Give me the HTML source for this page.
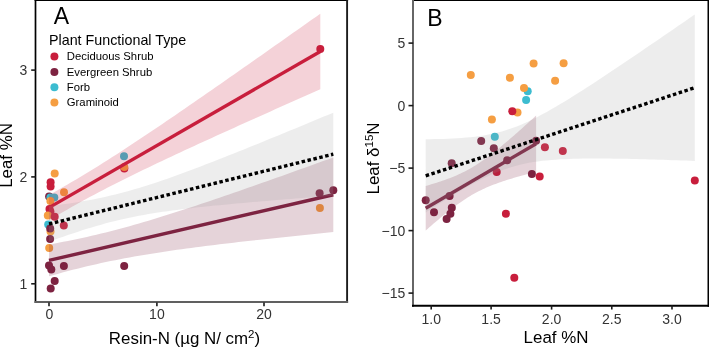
<!DOCTYPE html>
<html><head><meta charset="utf-8"><style>
html,body{margin:0;padding:0;background:#fff;overflow:hidden}
svg{display:block;will-change:transform}
text{font-family:"Liberation Sans",sans-serif}
.tk{font-size:14px;fill:#333}
.pl{font-size:23px;fill:#000;text-anchor:middle}
.ti{font-size:16.9px;fill:#000}
.sup{font-size:11.5px}
.lt{font-size:14.3px;fill:#000}
.ll{font-size:11.3px;fill:#000}
</style></head><body>
<svg width="709" height="347" viewBox="0 0 709 347">
<rect width="709" height="347" fill="#fff"/>
<circle cx="49.1" cy="196.6" r="4.00" fill="#7d2341"/>
<circle cx="50.4" cy="197.4" r="4.00" fill="#3cbcd0"/>
<circle cx="54.3" cy="197.4" r="4.00" fill="#3cbcd0"/>
<circle cx="50.6" cy="182.3" r="4.00" fill="#c81e3c"/>
<circle cx="50.6" cy="186.6" r="4.00" fill="#c81e3c"/>
<circle cx="54.7" cy="173.4" r="4.00" fill="#f59e42"/>
<circle cx="64.0" cy="192.3" r="4.00" fill="#f59e42"/>
<circle cx="50.4" cy="200.9" r="4.00" fill="#f59e42"/>
<circle cx="49.5" cy="209.0" r="4.00" fill="#c81e3c"/>
<circle cx="50.4" cy="211.6" r="4.00" fill="#c81e3c"/>
<circle cx="47.8" cy="215.5" r="4.00" fill="#f59e42"/>
<circle cx="54.7" cy="216.8" r="4.00" fill="#c81e3c"/>
<circle cx="63.8" cy="225.5" r="4.00" fill="#c81e3c"/>
<circle cx="48.2" cy="224.6" r="4.00" fill="#3cbcd0"/>
<circle cx="50.5" cy="231.5" r="4.00" fill="#f59e42"/>
<circle cx="50.2" cy="228.5" r="4.00" fill="#7d2341"/>
<circle cx="50.1" cy="239.1" r="4.00" fill="#7d2341"/>
<circle cx="49.2" cy="248.1" r="4.00" fill="#f59e42"/>
<circle cx="49.0" cy="265.4" r="4.00" fill="#7d2341"/>
<circle cx="51.3" cy="269.4" r="4.00" fill="#7d2341"/>
<circle cx="63.9" cy="266.0" r="4.00" fill="#7d2341"/>
<circle cx="54.7" cy="280.9" r="4.00" fill="#7d2341"/>
<circle cx="50.7" cy="288.4" r="4.00" fill="#7d2341"/>
<circle cx="124.2" cy="266.0" r="4.00" fill="#7d2341"/>
<circle cx="124.3" cy="168.6" r="4.00" fill="#c81e3c"/>
<circle cx="124.3" cy="167.0" r="4.00" fill="#f59e42"/>
<circle cx="124.0" cy="156.2" r="4.00" fill="#3cbcd0"/>
<circle cx="320.3" cy="49.0" r="4.00" fill="#c81e3c"/>
<circle cx="319.6" cy="193.2" r="4.00" fill="#7d2341"/>
<circle cx="333.3" cy="190.2" r="4.00" fill="#7d2341"/>
<circle cx="319.9" cy="207.9" r="4.00" fill="#f59e42"/>
<polygon points="49.00,194.95 53.52,192.45 58.04,189.91 62.56,187.34 67.09,184.74 71.61,182.10 76.13,179.44 80.65,176.74 85.17,174.02 89.70,171.26 94.22,168.48 98.74,165.66 103.26,162.83 107.78,159.96 112.30,157.08 116.83,154.17 121.35,151.24 125.87,148.29 130.39,145.32 134.91,142.34 139.43,139.34 143.95,136.32 148.48,133.30 153.00,130.26 157.52,127.20 162.04,124.14 166.56,121.07 171.09,117.99 175.61,114.90 180.13,111.80 184.65,108.70 189.17,105.58 193.69,102.47 198.22,99.34 202.74,96.21 207.26,93.08 211.78,89.94 216.30,86.79 220.82,83.65 225.34,80.49 229.87,77.34 234.39,74.18 238.91,71.02 243.43,67.85 247.95,64.68 252.47,61.51 257.00,58.34 261.52,55.16 266.04,51.98 270.56,48.80 275.08,45.62 279.61,42.44 284.13,39.25 288.65,36.06 293.17,32.87 297.69,29.68 302.21,26.49 306.74,23.29 311.26,20.10 315.78,16.90 320.30,13.70 320.30,89.23 315.78,91.24 311.26,93.24 306.74,95.25 302.21,97.26 297.69,99.28 293.17,101.29 288.65,103.30 284.13,105.32 279.61,107.34 275.08,109.36 270.56,111.38 266.04,113.40 261.52,115.43 257.00,117.46 252.47,119.49 247.95,121.52 243.43,123.56 238.91,125.60 234.39,127.64 229.87,129.68 225.34,131.73 220.82,133.79 216.30,135.84 211.78,137.90 207.26,139.97 202.74,142.04 198.22,144.11 193.69,146.19 189.17,148.28 184.65,150.37 180.13,152.47 175.61,154.58 171.09,156.69 166.56,158.81 162.04,160.95 157.52,163.09 153.00,165.24 148.48,167.41 143.95,169.58 139.43,171.77 134.91,173.98 130.39,176.20 125.87,178.44 121.35,180.69 116.83,182.97 112.30,185.26 107.78,187.58 103.26,189.92 98.74,192.29 94.22,194.68 89.70,197.10 85.17,199.55 80.65,202.02 76.13,204.53 71.61,207.07 67.09,209.64 62.56,212.25 58.04,214.88 53.52,217.55 49.00,220.25" fill="#c81e3c" fill-opacity="0.2"/>
<polygon points="49.00,244.49 53.74,243.64 58.48,242.77 63.22,241.87 67.95,240.94 72.69,239.99 77.43,239.00 82.17,237.99 86.91,236.94 91.65,235.86 96.38,234.75 101.12,233.62 105.86,232.45 110.60,231.25 115.34,230.02 120.08,228.76 124.81,227.48 129.55,226.17 134.29,224.83 139.03,223.47 143.77,222.08 148.50,220.68 153.24,219.25 157.98,217.80 162.72,216.33 167.46,214.85 172.20,213.35 176.94,211.84 181.67,210.31 186.41,208.76 191.15,207.21 195.89,205.64 200.63,204.07 205.36,202.48 210.10,200.88 214.84,199.28 219.58,197.66 224.32,196.04 229.06,194.41 233.80,192.78 238.53,191.13 243.27,189.49 248.01,187.83 252.75,186.17 257.49,184.51 262.23,182.84 266.96,181.17 271.70,179.49 276.44,177.81 281.18,176.13 285.92,174.44 290.66,172.75 295.39,171.06 300.13,169.36 304.87,167.66 309.61,165.96 314.35,164.26 319.08,162.55 323.82,160.84 328.56,159.13 333.30,157.42 333.30,232.03 328.56,232.51 323.82,232.99 319.08,233.47 314.35,233.95 309.61,234.44 304.87,234.92 300.13,235.41 295.39,235.91 290.66,236.40 285.92,236.90 281.18,237.40 276.44,237.91 271.70,238.42 266.96,238.93 262.23,239.45 257.49,239.97 252.75,240.49 248.01,241.02 243.27,241.56 238.53,242.10 233.80,242.65 229.06,243.20 224.32,243.76 219.58,244.33 214.84,244.91 210.10,245.49 205.36,246.08 200.63,246.68 195.89,247.29 191.15,247.92 186.41,248.55 181.67,249.20 176.94,249.86 172.20,250.53 167.46,251.22 162.72,251.93 157.98,252.65 153.24,253.39 148.50,254.15 143.77,254.94 139.03,255.74 134.29,256.57 129.55,257.42 124.81,258.30 120.08,259.20 115.34,260.13 110.60,261.09 105.86,262.08 101.12,263.10 96.38,264.15 91.65,265.24 86.91,266.35 82.17,267.49 77.43,268.66 72.69,269.87 67.95,271.10 63.22,272.36 58.48,273.65 53.74,274.97 49.00,276.31" fill="#7d2341" fill-opacity="0.2"/>
<line x1="49.00" y1="207.60" x2="320.30" y2="51.47" stroke="#c81e3c" stroke-width="3.4"/>
<line x1="49.00" y1="260.40" x2="333.30" y2="194.73" stroke="#7d2341" stroke-width="3.4"/>
<polygon points="49.00,206.21 53.74,205.60 58.48,204.97 63.22,204.32 67.95,203.63 72.69,202.91 77.43,202.16 82.17,201.36 86.91,200.53 91.65,199.64 96.38,198.71 101.12,197.74 105.86,196.70 110.60,195.62 115.34,194.48 120.08,193.28 124.81,192.03 129.55,190.73 134.29,189.37 139.03,187.97 143.77,186.52 148.50,185.02 153.24,183.48 157.98,181.90 162.72,180.29 167.46,178.65 172.20,176.97 176.94,175.27 181.67,173.54 186.41,171.79 191.15,170.02 195.89,168.24 200.63,166.43 205.36,164.61 210.10,162.78 214.84,160.93 219.58,159.07 224.32,157.21 229.06,155.33 233.80,153.44 238.53,151.55 243.27,149.65 248.01,147.74 252.75,145.82 257.49,143.90 262.23,141.98 266.96,140.05 271.70,138.11 276.44,136.17 281.18,134.23 285.92,132.28 290.66,130.33 295.39,128.38 300.13,126.42 304.87,124.46 309.61,122.50 314.35,120.54 319.08,118.57 323.82,116.60 328.56,114.63 333.30,112.66 333.30,195.69 328.56,196.05 323.82,196.41 319.08,196.77 314.35,197.13 309.61,197.49 304.87,197.85 300.13,198.22 295.39,198.59 290.66,198.97 285.92,199.35 281.18,199.73 276.44,200.11 271.70,200.50 266.96,200.89 262.23,201.29 257.49,201.69 252.75,202.10 248.01,202.51 243.27,202.93 238.53,203.35 233.80,203.79 229.06,204.23 224.32,204.68 219.58,205.14 214.84,205.61 210.10,206.09 205.36,206.58 200.63,207.09 195.89,207.61 191.15,208.15 186.41,208.71 181.67,209.29 176.94,209.89 172.20,210.52 167.46,211.17 162.72,211.85 157.98,212.57 153.24,213.32 148.50,214.10 143.77,214.93 139.03,215.81 134.29,216.73 129.55,217.70 124.81,218.73 120.08,219.80 115.34,220.94 110.60,222.12 105.86,223.37 101.12,224.66 96.38,226.01 91.65,227.41 86.91,228.86 82.17,230.35 77.43,231.88 72.69,233.45 67.95,235.06 63.22,236.70 58.48,238.37 53.74,240.07 49.00,241.79" fill="#999999" fill-opacity="0.18"/>
<line x1="49.00" y1="224.00" x2="333.30" y2="154.18" stroke="#000" stroke-width="3.4" stroke-dasharray="3.5 2.55"/>
<circle cx="470.8" cy="75.0" r="4.00" fill="#f59e42"/>
<circle cx="509.9" cy="77.8" r="4.00" fill="#f59e42"/>
<circle cx="527.7" cy="91.3" r="4.00" fill="#3cbcd0"/>
<circle cx="524.0" cy="87.9" r="4.00" fill="#f59e42"/>
<circle cx="533.6" cy="63.4" r="4.00" fill="#f59e42"/>
<circle cx="563.6" cy="63.2" r="4.00" fill="#f59e42"/>
<circle cx="555.1" cy="80.8" r="4.00" fill="#f59e42"/>
<circle cx="526.1" cy="100.0" r="4.00" fill="#3cbcd0"/>
<circle cx="517.5" cy="112.5" r="4.00" fill="#f59e42"/>
<circle cx="512.3" cy="111.2" r="4.00" fill="#c81e3c"/>
<circle cx="491.9" cy="119.5" r="4.00" fill="#f59e42"/>
<circle cx="494.8" cy="136.8" r="4.00" fill="#3cbcd0"/>
<circle cx="481.2" cy="141.1" r="4.00" fill="#7d2341"/>
<circle cx="493.8" cy="148.3" r="4.00" fill="#7d2341"/>
<circle cx="507.2" cy="160.3" r="4.00" fill="#7d2341"/>
<circle cx="536.1" cy="140.8" r="4.00" fill="#7d2341"/>
<circle cx="531.9" cy="174.0" r="4.00" fill="#7d2341"/>
<circle cx="451.7" cy="163.3" r="4.00" fill="#7d2341"/>
<circle cx="449.6" cy="196.1" r="4.00" fill="#7d2341"/>
<circle cx="425.7" cy="200.2" r="4.00" fill="#7d2341"/>
<circle cx="434.0" cy="212.3" r="4.00" fill="#7d2341"/>
<circle cx="451.8" cy="207.7" r="4.00" fill="#7d2341"/>
<circle cx="450.4" cy="213.7" r="4.00" fill="#7d2341"/>
<circle cx="446.6" cy="218.9" r="4.00" fill="#7d2341"/>
<circle cx="562.8" cy="151.0" r="4.00" fill="#c81e3c"/>
<circle cx="544.9" cy="147.3" r="4.00" fill="#c81e3c"/>
<circle cx="539.7" cy="176.4" r="4.00" fill="#c81e3c"/>
<circle cx="496.7" cy="172.0" r="4.00" fill="#c81e3c"/>
<circle cx="505.9" cy="213.7" r="4.00" fill="#c81e3c"/>
<circle cx="514.3" cy="277.7" r="4.00" fill="#c81e3c"/>
<circle cx="694.8" cy="180.5" r="4.00" fill="#c81e3c"/>
<polygon points="425.70,185.96 427.54,185.44 429.38,184.90 431.22,184.36 433.06,183.80 434.90,183.24 436.74,182.66 438.58,182.06 440.42,181.46 442.26,180.83 444.10,180.20 445.94,179.54 447.78,178.86 449.62,178.17 451.46,177.45 453.30,176.70 455.14,175.93 456.98,175.14 458.82,174.31 460.66,173.46 462.50,172.57 464.34,171.66 466.18,170.70 468.02,169.72 469.86,168.69 471.70,167.64 473.54,166.54 475.38,165.41 477.22,164.25 479.06,163.05 480.90,161.81 482.74,160.55 484.58,159.25 486.42,157.92 488.26,156.56 490.10,155.18 491.94,153.77 493.78,152.34 495.62,150.89 497.46,149.41 499.30,147.92 501.14,146.40 502.98,144.87 504.82,143.33 506.66,141.77 508.50,140.20 510.34,138.61 512.18,137.02 514.02,135.41 515.86,133.80 517.70,132.17 519.54,130.54 521.38,128.90 523.22,127.25 525.06,125.59 526.90,123.93 528.74,122.26 530.58,120.59 532.42,118.91 534.26,117.23 536.10,115.54 536.10,171.92 534.26,172.38 532.42,172.85 530.58,173.32 528.74,173.80 526.90,174.29 525.06,174.77 523.22,175.27 521.38,175.77 519.54,176.28 517.70,176.80 515.86,177.33 514.02,177.86 512.18,178.41 510.34,178.96 508.50,179.53 506.66,180.11 504.82,180.70 502.98,181.30 501.14,181.93 499.30,182.56 497.46,183.22 495.62,183.90 493.78,184.59 491.94,185.31 490.10,186.05 488.26,186.82 486.42,187.62 484.58,188.44 482.74,189.29 480.90,190.18 479.06,191.09 477.22,192.04 475.38,193.03 473.54,194.05 471.70,195.11 469.86,196.20 468.02,197.33 466.18,198.49 464.34,199.69 462.50,200.92 460.66,202.19 458.82,203.49 456.98,204.81 455.14,206.17 453.30,207.55 451.46,208.96 449.62,210.39 447.78,211.84 445.94,213.32 444.10,214.81 442.26,216.32 440.42,217.85 438.58,219.40 436.74,220.96 434.90,222.53 433.06,224.11 431.22,225.71 429.38,227.31 427.54,228.93 425.70,230.55" fill="#7d2341" fill-opacity="0.2"/>
<line x1="425.70" y1="208.26" x2="536.10" y2="143.73" stroke="#7d2341" stroke-width="3.4"/>
<polygon points="425.70,139.19 430.19,139.15 434.67,139.09 439.15,139.00 443.64,138.88 448.12,138.72 452.61,138.52 457.09,138.27 461.58,137.98 466.06,137.62 470.55,137.19 475.03,136.68 479.52,136.09 484.00,135.39 488.49,134.59 492.97,133.66 497.46,132.60 501.94,131.40 506.43,130.06 510.91,128.57 515.40,126.93 519.88,125.14 524.37,123.22 528.86,121.17 533.34,119.00 537.82,116.73 542.31,114.35 546.79,111.90 551.28,109.37 555.76,106.77 560.25,104.11 564.73,101.40 569.22,98.65 573.70,95.86 578.19,93.04 582.67,90.18 587.16,87.30 591.64,84.39 596.13,81.47 600.62,78.52 605.10,75.56 609.58,72.58 614.07,69.59 618.55,66.59 623.04,63.58 627.52,60.55 632.01,57.52 636.50,54.48 640.98,51.43 645.46,48.37 649.95,45.31 654.43,42.25 658.92,39.17 663.40,36.09 667.89,33.01 672.38,29.93 676.86,26.84 681.35,23.74 685.83,20.65 690.31,17.55 694.80,14.44 694.80,160.93 690.31,160.76 685.83,160.60 681.35,160.44 676.86,160.28 672.38,160.13 667.89,159.98 663.40,159.83 658.92,159.69 654.43,159.56 649.95,159.43 645.46,159.30 640.98,159.18 636.50,159.07 632.01,158.97 627.52,158.87 623.04,158.78 618.55,158.71 614.07,158.64 609.58,158.59 605.10,158.55 600.62,158.52 596.13,158.51 591.64,158.52 587.16,158.55 582.67,158.61 578.19,158.69 573.70,158.80 569.22,158.95 564.73,159.13 560.25,159.36 555.76,159.64 551.28,159.98 546.79,160.39 542.31,160.87 537.82,161.43 533.34,162.09 528.86,162.86 524.37,163.75 519.88,164.76 515.40,165.92 510.91,167.21 506.43,168.66 501.94,170.25 497.46,171.99 492.97,173.87 488.49,175.88 484.00,178.01 479.52,180.25 475.03,182.59 470.55,185.02 466.06,187.53 461.58,190.11 457.09,192.75 452.61,195.44 448.12,198.18 443.64,200.96 439.15,203.77 434.67,206.62 430.19,209.49 425.70,212.39" fill="#999999" fill-opacity="0.18"/>
<line x1="425.70" y1="175.79" x2="694.80" y2="87.69" stroke="#000" stroke-width="3.4" stroke-dasharray="3.5 2.55"/>
<line x1="34.6" y1="0.25" x2="348.1" y2="0.25" stroke="#000" stroke-width="1.7"/>
<line x1="35.5" y1="0" x2="35.5" y2="303" stroke="#000" stroke-width="1.7"/>
<line x1="347.1" y1="0" x2="347.1" y2="303" stroke="#1c1c1c" stroke-width="1.9"/>
<line x1="34.6" y1="302.0" x2="348.1" y2="302.0" stroke="#606060" stroke-width="2.0"/>
<line x1="412" y1="0.25" x2="709" y2="0.25" stroke="#000" stroke-width="1.7"/>
<line x1="413.0" y1="0" x2="413.0" y2="306.7" stroke="#666666" stroke-width="2.0"/>
<line x1="708.4" y1="0" x2="708.4" y2="306.7" stroke="#000" stroke-width="1.8"/>
<line x1="412" y1="305.7" x2="709" y2="305.7" stroke="#000" stroke-width="2.0"/>
<line x1="31.2" y1="283.8" x2="35.7" y2="283.8" stroke="#1a1a1a" stroke-width="1.6"/>
<text x="27.3" y="288.8" text-anchor="end" class="tk">1</text>
<line x1="31.2" y1="176.9" x2="35.7" y2="176.9" stroke="#1a1a1a" stroke-width="1.6"/>
<text x="27.3" y="181.9" text-anchor="end" class="tk">2</text>
<line x1="31.2" y1="70.1" x2="35.7" y2="70.1" stroke="#1a1a1a" stroke-width="1.6"/>
<text x="27.3" y="75.1" text-anchor="end" class="tk">3</text>
<line x1="49.0" y1="302.5" x2="49.0" y2="306.3" stroke="#1a1a1a" stroke-width="1.6"/>
<text x="49.4" y="319.3" text-anchor="middle" class="tk">0</text>
<line x1="156.9" y1="302.5" x2="156.9" y2="306.3" stroke="#1a1a1a" stroke-width="1.6"/>
<text x="156.9" y="319.3" text-anchor="middle" class="tk">10</text>
<line x1="264.0" y1="302.5" x2="264.0" y2="306.3" stroke="#1a1a1a" stroke-width="1.6"/>
<text x="264.0" y="319.3" text-anchor="middle" class="tk">20</text>
<line x1="408.5" y1="43.1" x2="413.2" y2="43.1" stroke="#1a1a1a" stroke-width="1.6"/>
<text x="405.3" y="48.3" text-anchor="end" class="tk">5</text>
<line x1="408.5" y1="105.6" x2="413.2" y2="105.6" stroke="#1a1a1a" stroke-width="1.6"/>
<text x="405.3" y="110.8" text-anchor="end" class="tk">0</text>
<line x1="408.5" y1="168.1" x2="413.2" y2="168.1" stroke="#1a1a1a" stroke-width="1.6"/>
<text x="405.3" y="173.3" text-anchor="end" class="tk">−5</text>
<line x1="408.5" y1="230.6" x2="413.2" y2="230.6" stroke="#1a1a1a" stroke-width="1.6"/>
<text x="405.3" y="235.8" text-anchor="end" class="tk">−10</text>
<line x1="408.5" y1="293.1" x2="413.2" y2="293.1" stroke="#1a1a1a" stroke-width="1.6"/>
<text x="405.3" y="298.3" text-anchor="end" class="tk">−15</text>
<line x1="431.2" y1="305.3" x2="431.2" y2="309.6" stroke="#1a1a1a" stroke-width="1.6"/>
<text x="431.2" y="323.5" text-anchor="middle" class="tk">1.0</text>
<line x1="491.1" y1="305.3" x2="491.1" y2="309.6" stroke="#1a1a1a" stroke-width="1.6"/>
<text x="491.1" y="323.5" text-anchor="middle" class="tk">1.5</text>
<line x1="551.6" y1="305.3" x2="551.6" y2="309.6" stroke="#1a1a1a" stroke-width="1.6"/>
<text x="551.6" y="323.5" text-anchor="middle" class="tk">2.0</text>
<line x1="611.8" y1="305.3" x2="611.8" y2="309.6" stroke="#1a1a1a" stroke-width="1.6"/>
<text x="611.8" y="323.5" text-anchor="middle" class="tk">2.5</text>
<line x1="672.0" y1="305.3" x2="672.0" y2="309.6" stroke="#1a1a1a" stroke-width="1.6"/>
<text x="672.0" y="323.5" text-anchor="middle" class="tk">3.0</text>
<text x="61.5" y="23.5" class="pl">A</text>
<text x="435" y="25.8" class="pl">B</text>
<text x="184.5" y="343.5" text-anchor="middle" class="ti">Resin-N (µg N/ cm<tspan class="sup" dy="-6">2</tspan><tspan dy="6">)</tspan></text>
<text x="556" y="343.4" text-anchor="middle" class="ti">Leaf %N</text>
<text transform="translate(12.2,155.45) rotate(-90)" text-anchor="middle" class="ti">Leaf %N</text>
<text transform="translate(379.2,158.5) rotate(-90)" text-anchor="middle" class="ti">Leaf δ<tspan class="sup" dy="-6.5">15</tspan><tspan dy="6.5">N</tspan></text>
<text x="49.0" y="44.9" class="lt">Plant Functional Type</text>
<circle cx="54.4" cy="56.6" r="4" fill="#c81e3c"/>
<text x="66.8" y="60.2" class="ll">Deciduous Shrub</text>
<circle cx="54.4" cy="71.9" r="4" fill="#7d2341"/>
<text x="66.8" y="75.5" class="ll">Evergreen Shrub</text>
<circle cx="54.4" cy="87.2" r="4" fill="#3cbcd0"/>
<text x="66.8" y="90.8" class="ll">Forb</text>
<circle cx="54.4" cy="102.5" r="4" fill="#f59e42"/>
<text x="66.8" y="106.1" class="ll">Graminoid</text>
</svg>
</body></html>
